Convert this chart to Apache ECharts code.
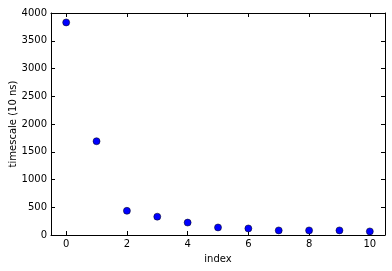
<!DOCTYPE html>
<html>
<head>
<meta charset="utf-8">
<script src="https://cdn.jsdelivr.net/npm/echarts@6/dist/echarts.min.js"></script>
<style>html,body{margin:0;padding:0;background:#fff;}#c{width:392px;height:271px;}</style>
</head>
<body>
<div id="c"></div>
<script>
var indexValues = [0, 1, 2, 3, 4, 5, 6, 7, 8, 9, 10];
var timescaleValues = [3830, 1690, 436, 330, 224, 136, 118, 83, 83, 83, 65];
var xTicks = [0, 2, 4, 6, 8, 10];
var yTicks = [0, 500, 1000, 1500, 2000, 2500, 3000, 3500, 4000];

var font = 'DejaVu Sans';
var chart = echarts.init(document.getElementById('c'), null, {renderer: 'canvas'});
var lineStyle = {color: '#000', width: 1};
var tickStyle = {color: '#000', width: 1};
var plain = function (v) { return String(v); };
var xBase = {
  type: 'value', min: -0.5, max: 10.5,
  axisLine: {show: true, onZero: false, lineStyle: lineStyle},
  axisTick: {show: true, inside: true, length: 4, lineStyle: tickStyle, customValues: xTicks},
  splitLine: {show: false}
};
var yBase = {
  type: 'value', min: 0, max: 4000,
  axisLine: {show: true, onZero: false, lineStyle: lineStyle},
  axisTick: {show: true, inside: true, length: 4, lineStyle: tickStyle, customValues: yTicks},
  splitLine: {show: false}
};
chart.setOption({
  animation: false,
  backgroundColor: '#fff',
  grid: {left: 51, right: 7, top: 13, bottom: 36, containLabel: false, outerBoundsMode: 'none'},
  xAxis: [
    Object.assign({}, xBase, {
      position: 'bottom',
      name: 'index', nameLocation: 'middle', nameGap: 19, nameMoveOverlap: false,
      nameTextStyle: {fontFamily: font, fontSize: 10, color: '#000'},
      axisLabel: {show: true, margin: 4, fontFamily: font, fontSize: 10, color: '#000', customValues: xTicks, formatter: plain}
    }),
    Object.assign({}, xBase, {position: 'top', axisLabel: {show: false}})
  ],
  yAxis: [
    Object.assign({}, yBase, {
      position: 'left',
      name: 'timescale (10 ns)', nameLocation: 'middle', nameGap: 33, nameMoveOverlap: false,
      nameTextStyle: {fontFamily: font, fontSize: 10, color: '#000'},
      axisLabel: {show: true, margin: 4, fontFamily: font, fontSize: 10, color: '#000', customValues: yTicks, formatter: plain}
    }),
    Object.assign({}, yBase, {position: 'right', axisLabel: {show: false}})
  ],
  series: [{
    type: 'scatter',
    xAxisIndex: 0, yAxisIndex: 0,
    symbol: 'circle', symbolSize: 7,
    itemStyle: {color: '#0000ff', borderColor: '#000', borderWidth: 0.5, opacity: 1},
    data: indexValues.map(function (x, i) { return [x, timescaleValues[i]]; })
  }]
});
</script>
</body>
</html>
